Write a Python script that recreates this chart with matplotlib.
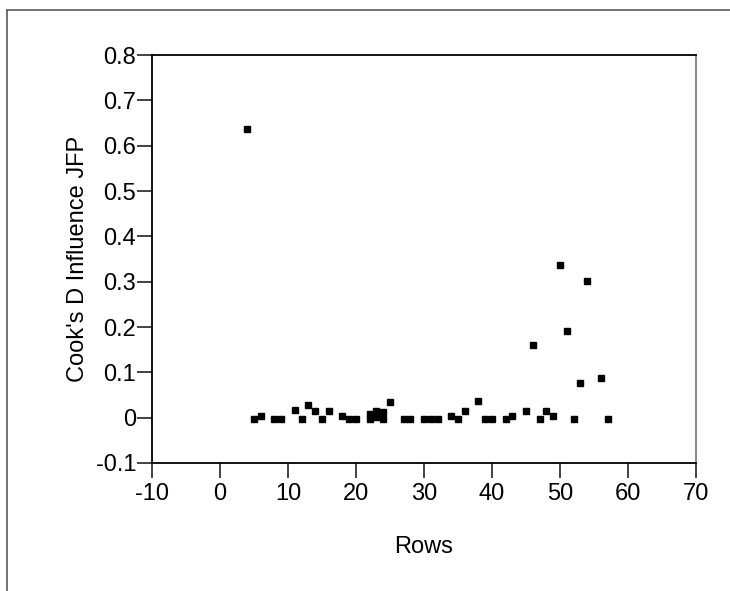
#!/usr/bin/env python3
"""Cook's D influence by row."""

from matplotlib import pyplot as plt
from matplotlib.lines import Line2D

# Row numbers and Cook's D values
rows = [4, 5, 6, 8, 9, 11, 12, 13, 14, 15, 16, 18, 19, 20,
        22, 22, 23, 23, 24, 24, 25, 27, 28, 30, 31, 32, 34, 35, 36,
        38, 39, 40, 42, 43, 45, 46, 47, 48, 49, 50, 51, 52, 53, 54,
        56, 57]
cooks_d = [0.636, -0.003, 0.003, -0.003, -0.003, 0.018, -0.003, 0.029,
           0.014, -0.003, 0.014, 0.003, -0.003, -0.003,
           0.009, -0.002, 0.014, 0.002, 0.012, -0.003, 0.034, -0.003,
           -0.003, -0.003, -0.003, -0.003, 0.003, -0.003, 0.014,
           0.037, -0.003, -0.003, -0.003, 0.003, 0.014, 0.161, -0.003,
           0.014, 0.003, 0.337, 0.192, -0.003, 0.077, 0.302, 0.088,
           -0.003]

x_ticks = [-10, 0, 10, 20, 30, 40, 50, 60, 70]
x_tick_labels = ["-10", "0", "10", "20", "30", "40", "50", "60", "70"]
y_ticks = [-0.1, 0, 0.1, 0.2, 0.3, 0.4, 0.5, 0.6, 0.7, 0.8]
y_tick_labels = ["-0.1", "0", "0.1", "0.2", "0.3", "0.4", "0.5", "0.6",
                 "0.7", "0.8"]

plt.rcParams["font.family"] = ["Liberation Sans", "DejaVu Sans"]

fig = plt.figure(figsize=(7.3, 5.91), dpi=100)
ax = fig.add_axes([0.2082, 0.2166, 0.7452, 0.6903])

ax.plot(rows, cooks_d, "ks", markersize=5, linestyle="none")

ax.set_xlim(-10, 70)
ax.set_ylim(-0.1, 0.8)
ax.set_xticks(x_ticks)
ax.set_xticklabels(x_tick_labels)
ax.set_yticks(y_ticks)
ax.set_yticklabels(y_tick_labels)
ax.tick_params(axis="both", direction="out", length=10.5, width=1.2,
               labelsize=17, color="#222222")
ax.tick_params(axis="y", pad=1)
ax.tick_params(axis="x", pad=4)

for side in ("left", "bottom", "top"):
    ax.spines[side].set_color("black")
    ax.spines[side].set_linewidth(1.3)
ax.spines["right"].set_color("#808080")
ax.spines["right"].set_linewidth(1.3)

ax.set_xlabel("Rows", fontsize=17, labelpad=22)
ax.set_ylabel("Cook's D Influence JFP", fontsize=17, labelpad=5)

# outer frame around the report cell
fig.add_artist(Line2D([7 / 730, 7 / 730], [0, 1 - 10 / 591],
                      color="#666666", linewidth=1.3))
fig.add_artist(Line2D([7 / 730, 1], [1 - 10 / 591, 1 - 10 / 591],
                      color="#666666", linewidth=1.3))

fig.savefig("out.png", dpi=100)
